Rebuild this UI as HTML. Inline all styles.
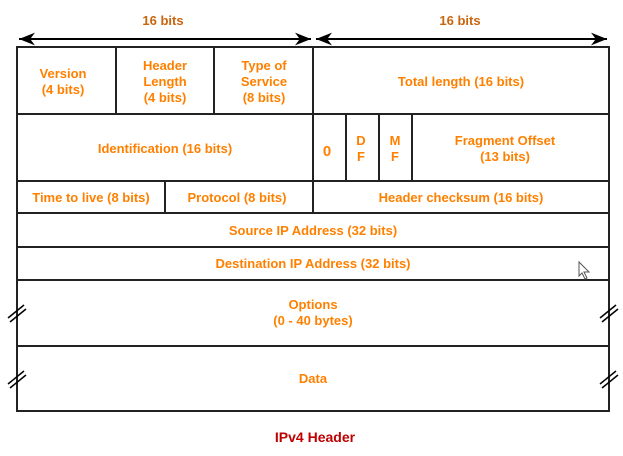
<!DOCTYPE html>
<html><head><style>
body{margin:0;background:#fff;width:623px;height:451px;overflow:hidden}
svg text{font-family:"Liberation Sans",Arial,sans-serif;font-weight:bold;font-size:13px;fill:#ff8000;text-anchor:middle}
</style></head><body>
<svg width="623" height="451" viewBox="0 0 623 451" xmlns="http://www.w3.org/2000/svg">
<defs><marker id="a" viewBox="0 0 10 10" refX="10" refY="5" markerWidth="8" markerHeight="8" orient="auto-start-reverse"><path d="M0,1 L10,5 L0,9 L3,5z" fill="#000"/></marker></defs>
<text x="163" y="25" style="fill:#c8650f">16 bits</text>
<text x="460" y="25" style="fill:#c8650f">16 bits</text>
<line x1="19" y1="39" x2="311" y2="39" stroke="#000" stroke-width="2" marker-start="url(#a)" marker-end="url(#a)"/>
<line x1="316" y1="39" x2="607" y2="39" stroke="#000" stroke-width="2" marker-start="url(#a)" marker-end="url(#a)"/>
<g stroke="#222" stroke-width="2" fill="none">
<rect x="17" y="47" width="592" height="364"/>
<line x1="17" y1="114" x2="609" y2="114"/>
<line x1="17" y1="181" x2="609" y2="181"/>
<line x1="17" y1="213" x2="609" y2="213"/>
<line x1="17" y1="247" x2="609" y2="247"/>
<line x1="17" y1="280" x2="609" y2="280"/>
<line x1="17" y1="346" x2="609" y2="346"/>
<line x1="116" y1="47" x2="116" y2="114"/>
<line x1="214" y1="47" x2="214" y2="114"/>
<line x1="313" y1="47" x2="313" y2="213"/>
<line x1="346" y1="114" x2="346" y2="181"/>
<line x1="379" y1="114" x2="379" y2="181"/>
<line x1="412" y1="114" x2="412" y2="181"/>
<line x1="165" y1="181" x2="165" y2="213"/>
</g>
<g stroke="#000" stroke-width="1.5">
<line x1="8" y1="318" x2="24" y2="305"/><line x1="10" y1="322" x2="26" y2="309"/>
<line x1="8" y1="384" x2="24" y2="371"/><line x1="10" y1="388" x2="26" y2="375"/>
<line x1="600" y1="318" x2="616" y2="305"/><line x1="602" y1="322" x2="618" y2="309"/>
<line x1="600" y1="384" x2="616" y2="371"/><line x1="602" y1="388" x2="618" y2="375"/>
</g>
<path d="M579,262 L579,276 L582,273 L585,279 L587,278 L584,272 L589,272z" fill="#fff" stroke="#555" stroke-width="1"/>
<text x="63" y="78">Version</text><text x="63" y="94">(4 bits)</text>
<text x="165" y="70">Header</text><text x="165" y="86">Length</text><text x="165" y="102">(4 bits)</text>
<text x="264" y="70">Type of</text><text x="264" y="86">Service</text><text x="264" y="102">(8 bits)</text>
<text x="461" y="86">Total length (16 bits)</text>
<text x="165" y="153">Identification (16 bits)</text>
<text x="327" y="156" style="font-size:15px">0</text>
<text x="361" y="145">D</text><text x="361" y="161">F</text>
<text x="395" y="145">M</text><text x="395" y="161">F</text>
<text x="505" y="145">Fragment Offset</text><text x="505" y="161">(13 bits)</text>
<text x="91" y="202">Time to live (8 bits)</text>
<text x="237" y="202">Protocol (8 bits)</text>
<text x="461" y="202">Header checksum (16 bits)</text>
<text x="313" y="235">Source IP Address (32 bits)</text>
<text x="313" y="268">Destination IP Address (32 bits)</text>
<text x="313" y="309">Options</text><text x="313" y="325">(0 - 40 bytes)</text>
<text x="313" y="383">Data</text>
<text x="315" y="442" style="fill:#c00000;font-size:14px">IPv4 Header</text>
</svg>
</body></html>
